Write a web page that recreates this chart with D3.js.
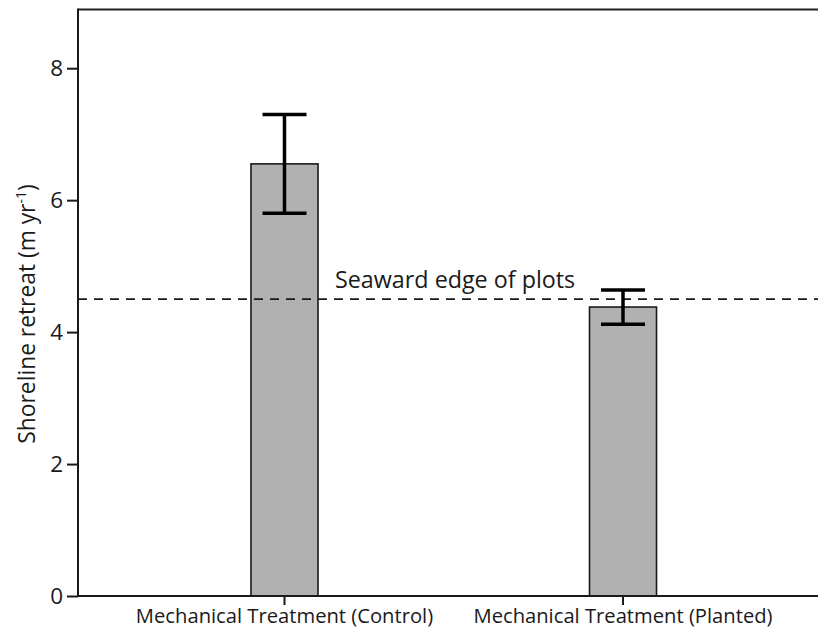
<!DOCTYPE html>
<html>
<head>
<meta charset="utf-8">
<script src="https://cdn.jsdelivr.net/npm/d3@7"></script>
<style>
  body { margin: 0; background: #fff; }
  text { font-family: "Open Sans", "Noto Sans", sans-serif; fill: #1a1a1a; }
</style>
</head>
<body>
<svg id="chart" width="818" height="630"></svg>
<script>
// Data
const categories = ["Mechanical Treatment (Control)", "Mechanical Treatment (Planted)"];
const means = [6.55, 4.38];
const errors = [0.75, 0.26];
const yTicks = [0, 2, 4, 6, 8];
const refValue = [4.5];
const refLabel = ["Seaward edge of plots"];
const yLabel = "Shoreline retreat (m yr";
const yLabelSup = "-1";

const svg = d3.select("#chart");
const margin = { left: 78, top: 9.5, bottom: 596 };
const xRight = 829.5;

const y = d3.scaleLinear().domain([0, 8.89]).range([margin.bottom, margin.top]);
const x = d3.scaleBand().domain(categories).range([margin.left, xRight])
  .paddingInner(0.802).paddingOuter(0.511);

// frame lines
svg.append("line")
  .attr("x1", margin.left).attr("x2", 818)
  .attr("y1", margin.top).attr("y2", margin.top)
  .attr("stroke", "#222").attr("stroke-width", 2);

// Bars
svg.selectAll("rect.bar").data(categories).enter().append("rect")
  .attr("class", "bar")
  .attr("x", d => x(d))
  .attr("width", x.bandwidth())
  .attr("y", (d, i) => y(means[i]))
  .attr("height", (d, i) => y(0) - y(means[i]))
  .attr("fill", "#b1b1b1")
  .attr("stroke", "#1a1a1a")
  .attr("stroke-width", 1.6);

// Reference dashed line
svg.append("line")
  .attr("x1", margin.left).attr("x2", 818)
  .attr("y1", y(refValue[0])).attr("y2", y(refValue[0]))
  .attr("stroke", "#1a1a1a").attr("stroke-width", 1.8)
  .attr("stroke-dasharray", "9,7");

svg.append("text")
  .attr("x", 335).attr("y", y(refValue[0]) - 11)
  .attr("font-size", 23.3)
  .text(refLabel[0]);

// Error bars
const capHalf = 22;
const eg = svg.selectAll("g.err").data(categories).enter().append("g").attr("class", "err");
eg.append("line")
  .attr("x1", d => x(d) + x.bandwidth() / 2).attr("x2", d => x(d) + x.bandwidth() / 2)
  .attr("y1", (d, i) => y(means[i] + errors[i])).attr("y2", (d, i) => y(means[i] - errors[i]))
  .attr("stroke", "#000").attr("stroke-width", 3.5);
eg.append("line")
  .attr("x1", d => x(d) + x.bandwidth() / 2 - capHalf).attr("x2", d => x(d) + x.bandwidth() / 2 + capHalf)
  .attr("y1", (d, i) => y(means[i] + errors[i])).attr("y2", (d, i) => y(means[i] + errors[i]))
  .attr("stroke", "#000").attr("stroke-width", 3.5);
eg.append("line")
  .attr("x1", d => x(d) + x.bandwidth() / 2 - capHalf).attr("x2", d => x(d) + x.bandwidth() / 2 + capHalf)
  .attr("y1", (d, i) => y(means[i] - errors[i])).attr("y2", (d, i) => y(means[i] - errors[i]))
  .attr("stroke", "#000").attr("stroke-width", 3.5);

// Y axis
const yAxis = svg.append("g")
  .attr("transform", `translate(${margin.left},0)`)
  .call(d3.axisLeft(y).tickValues(yTicks).tickFormat(d3.format("d")).tickSizeOuter(0).tickSize(11).tickPadding(4));
yAxis.select(".domain").remove();
yAxis.selectAll(".tick line").attr("stroke", "#1a1a1a").attr("stroke-width", 2);
yAxis.selectAll(".tick text").attr("font-size", 22.5).attr("font-family", "'Open Sans', sans-serif").attr("fill", "#111");

// X axis
const xAxis = svg.append("g")
  .attr("transform", `translate(0,${margin.bottom})`)
  .call(d3.axisBottom(x).tickSizeOuter(0).tickSize(9).tickPadding(4));
xAxis.select(".domain").remove();
xAxis.selectAll(".tick line").attr("stroke", "#1a1a1a").attr("stroke-width", 2);
xAxis.selectAll(".tick text").attr("font-size", 20.2).attr("font-family", "'Open Sans', sans-serif").attr("fill", "#1a1a1a");

// axis lines
svg.append("line")
  .attr("x1", margin.left).attr("x2", margin.left)
  .attr("y1", margin.top - 1).attr("y2", margin.bottom + 1)
  .attr("stroke", "#1a1a1a").attr("stroke-width", 2);
svg.append("line")
  .attr("x1", margin.left - 1).attr("x2", 818)
  .attr("y1", margin.bottom).attr("y2", margin.bottom)
  .attr("stroke", "#1a1a1a").attr("stroke-width", 2);

// Y label
const yl = svg.append("text")
  .attr("transform", `translate(35,314) rotate(-90)`)
  .attr("text-anchor", "middle")
  .attr("font-size", 22.8);
yl.append("tspan").text(yLabel);
yl.append("tspan").attr("dy", -9).attr("font-size", 14).text(yLabelSup);
yl.append("tspan").attr("dy", 9).text(")");
</script>
</body>
</html>
